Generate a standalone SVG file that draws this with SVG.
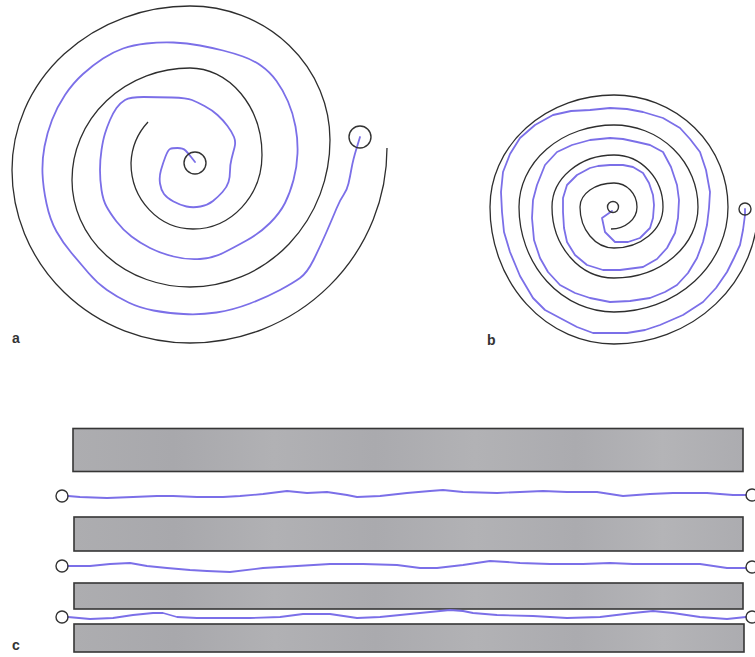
<svg xmlns="http://www.w3.org/2000/svg" width="755" height="657" viewBox="0 0 755 657">
<style>
.blk{fill:none;stroke:#2e2e2e;stroke-width:1.3}
.blu{fill:none;stroke:#7b6fe8;stroke-width:1.8;stroke-linejoin:round;stroke-linecap:round}
.cir{fill:none;stroke:#333;stroke-width:1.4}
.bar{fill:url(#g);stroke:#363636;stroke-width:1.6}
.lbl{font-family:"Liberation Sans",Arial,sans-serif;font-weight:bold;font-size:14px;fill:#333}
</style>
<defs>
<linearGradient id="g" x1="0" y1="0" x2="1" y2="0">
<stop offset="0" stop-color="#adadb0"/>
<stop offset="0.15" stop-color="#a8a8ac"/>
<stop offset="0.3" stop-color="#b1b1b4"/>
<stop offset="0.45" stop-color="#aaaaae"/>
<stop offset="0.6" stop-color="#b2b2b5"/>
<stop offset="0.75" stop-color="#ababaf"/>
<stop offset="0.88" stop-color="#b4b4b7"/>
<stop offset="1" stop-color="#acacb0"/>
</linearGradient>
</defs>
<rect width="755" height="657" fill="#ffffff"/>
<g id="spiral-a">
<path class="blk" d="M148,122 A64 64 0 0 0 131,163 A62 66 0 0 0 193,229 A69 74 0 0 0 262,155 A72 87 0 0 0 190,68 A118 112 0 0 0 72,180 A118 107 0 0 0 190,287 A140 147 0 0 0 330,140 A140 134 0 0 0 190,6 A178 164 0 0 0 12,170 A178 173 0 0 0 190,343 A197 195 0 0 0 387,148"/>
<path class="blu" d="M195,162 L191.5,157.5 Q188,153 185.5,150.5 Q183,148 177.5,148 Q172,148 170,149 Q168,150 165.5,156.5 Q163,163 161,170 Q159,177 160,183.5 Q161,190 164,194 Q167,198 173.5,201.5 Q180,205 186.5,206.5 Q193,208 200.5,206.5 Q208,205 213,201 Q218,197 222.5,192 Q227,187 228.5,182 Q230,177 230,171 Q230,165 231.5,159 Q233,153 234.5,147.5 Q236,142 234,137 Q232,132 227.5,126 Q223,120 217.5,115 Q212,110 204.5,106 Q197,102 192,100 Q187,98 172,97.5 Q157,97 143.5,97 Q130,97 125,100 Q120,103 116.5,108 Q113,113 110,120 Q107,127 105,133.5 Q103,140 101.5,150 Q100,160 100,170 Q100,180 101.5,190 Q103,200 106.5,206.5 Q110,213 116.5,221.5 Q123,230 131.5,236.5 Q140,243 150,248 Q160,253 173.5,256.5 Q187,260 200,259 Q213,258 223,253 Q233,248 246.5,240.5 Q260,233 270,223 Q280,213 285,203 Q290,193 293.5,180 Q297,167 297.5,153.5 Q298,140 295.5,126.5 Q293,113 288,101.5 Q283,90 276.5,81 Q270,72 261.5,66 Q253,60 243,56.5 Q233,53 223,50.5 Q213,48 200,45.5 Q187,43 173.5,42.5 Q160,42 146.5,43.5 Q133,45 123,48.5 Q113,52 103,58.5 Q93,65 83,74 Q73,83 65,95 Q57,107 52,120 Q47,133 44.5,146.5 Q42,160 42.5,173.5 Q43,187 46.5,203.5 Q50,220 56.5,231.5 Q63,243 71.5,253 Q80,263 88.5,273 Q97,283 107,290 Q117,297 128.5,302.5 Q140,308 153.5,310.5 Q167,313 183.5,314 Q200,315 216.5,312.5 Q233,310 250,303.5 Q267,297 280,290 Q293,283 300,278 Q307,273 313.5,260 Q320,247 326.5,232 Q333,217 336.5,208.5 Q340,200 343.5,195 Q347,190 348.5,183.5 Q350,177 351.5,168.5 Q353,160 356.5,148.5 L360,137"/>
<circle class="cir" cx="195" cy="163" r="11"/>
<circle class="cir" cx="360" cy="137" r="11"/>
<text class="lbl" x="12" y="343">a</text>
</g>
<g id="spiral-b">
<path class="blk" d="M611,229 A26 22 0 0 0 637,207 A23 24 0 0 0 614,183 A34 24 0 0 0 580,207 A34 41 0 0 0 614,248 A49 41 0 0 0 663,207 A49 52 0 0 0 614,155 A62 52 0 0 0 552,207 A62 71 0 0 0 614,278 A84 71 0 0 0 698,207 A84 82 0 0 0 614,125 A95 82 0 0 0 519,207 A95 105 0 0 0 614,312 A114 105 0 0 0 728,207 A114 112 0 0 0 614,95 A124 112 0 0 0 490,207 A124 137 0 0 0 614,344 A144 137 0 0 0 758,207"/>
<polyline class="blu" points="612,211 602,218 605,232 615,242 628,242 640,238 650,228 653,218 654,205 653,195 649,183 643,173 633,167 623,165 610,165 598,166 590,168 577,175 567,185 563,198 563,212 564,228 567,242 575,255 587,265 603,270 620,270 643,267 657,259 667,248 675,233 678,218 679,200 677,185 671,167 663,152 650,145 637,142 623,139 610,138 590,140 572,145 557,152 545,165 537,185 533,200 532,218 534,240 540,258 548,272 560,285 575,293 590,298 610,302 630,301 650,298 665,292 677,285 688,273 697,258 703,242 707,225 709,208 710,192 706,170 700,152 690,139 680,128 663,118 643,112 627,109 610,108 590,110 571,111 553,115 535,125 520,138 510,154 503,172 501,192 502,212 504,232 510,252 520,276 533,298 545,310 560,318 577,327 593,333 610,333 627,333 645,330 660,325 683,315 703,302 716,288 727,272 734,258 740,245 743,230 745,215 745,209"/>
<circle class="cir" cx="613" cy="207" r="5.5"/>
<circle class="cir" cx="745" cy="209" r="6"/>
<text class="lbl" x="487" y="345">b</text>
</g>
<g id="layers-c">
<rect class="bar" x="73" y="428.5" width="670" height="43"/>
<rect class="bar" x="74" y="517" width="669" height="34"/>
<rect class="bar" x="74" y="583" width="669" height="26"/>
<rect class="bar" x="74" y="624" width="670" height="28"/>
<polyline class="blu" points="68,496 80,497 107,498 133,497 157,496 173,496 197,497 223,497 240,496 263,494 287,491 307,493 327,492 347,495 357,497 380,496 407,493 430,491 443,490 463,492 497,493 520,492 543,491 567,492 597,492 623,496 650,494 673,493 707,493 733,495 746,495"/>
<polyline class="blu" points="68,566 90,566 110,564 130,563 147,566 167,568 190,570 207,571 230,572 263,568 297,566 330,564 363,564 397,565 420,568 437,568 463,565 490,561 507,562 520,563 550,564 583,564 610,563 633,564 667,564 700,564 727,568 746,568"/>
<polyline class="blu" points="68,617 90,619 113,618 133,615 153,613 163,613 177,617 197,618 230,618 250,618 280,617 303,614 330,614 357,618 380,617 410,614 430,612 450,610 463,611 473,613 497,615 533,616 567,618 600,617 633,613 653,611 673,613 700,617 727,619 746,617"/>
<circle class="cir" cx="62" cy="496" r="6"/>
<circle class="cir" cx="62" cy="566" r="6"/>
<circle class="cir" cx="62" cy="617" r="6"/>
<circle class="cir" cx="752" cy="495" r="6"/>
<circle class="cir" cx="752" cy="567" r="6"/>
<circle class="cir" cx="752" cy="617" r="6"/>
<text class="lbl" x="12" y="650">c</text>
</g>
</svg>
